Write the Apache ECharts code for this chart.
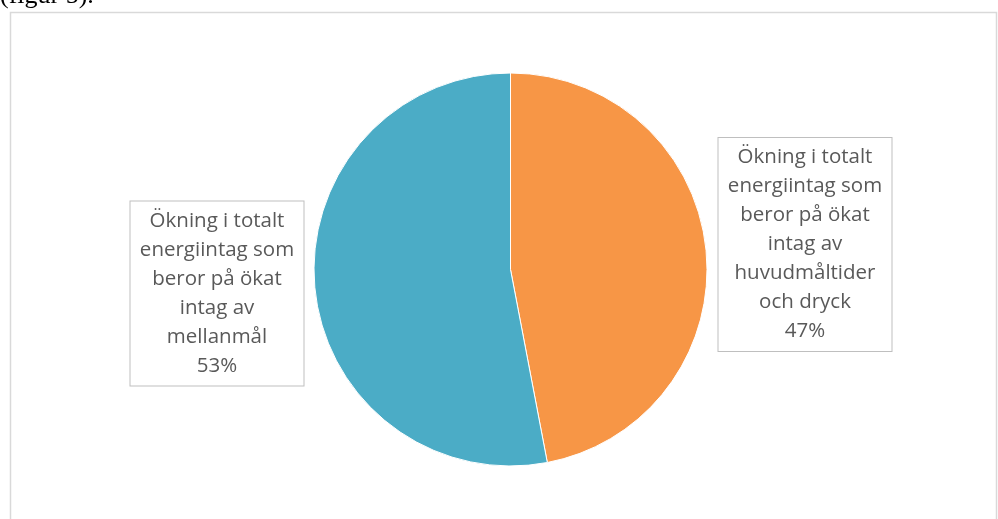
<!DOCTYPE html>
<html>
<head>
<meta charset="utf-8">
<script src="https://cdn.jsdelivr.net/npm/echarts@6/dist/echarts.min.js"></script>
<style>
  html, body { margin: 0; padding: 0; background: #fff; }
  #chart { width: 998px; height: 519px; }
</style>
</head>
<body>
<div id="chart"></div>
<script>
// Share of the increase in total energy intake
const categories = [
  'Ökning i totalt\nenergiintag som\nberor på ökat\nintag av\nhuvudmåltider\noch dryck',
  'Ökning i totalt\nenergiintag som\nberor på ökat\nintag av\nmellanmål'
];
const values = [47, 53];
const colors = ['#F79646', '#4BACC6'];

// Where each label box sits (centre point)
const labelSpots = [
  { x: 805, y: 244.5 },
  { x: 217, y: 293.5 }
];

const chart = echarts.init(document.getElementById('chart'));
chart.setOption({
  animation: false,
  graphic: [
    {
      type: 'text',
      left: 0,
      top: -17,
      style: { text: '(figur 5).', font: '26px "Liberation Serif"', fill: '#000' }
    },
    {
      type: 'rect',
      shape: { x: 10.5, y: 12.5, width: 986, height: 520 },
      style: { fill: 'none', stroke: '#d9d9d9', lineWidth: 1.5 },
      z: -1
    }
  ],
  series: [{
    type: 'pie',
    center: [510.5, 269.5],
    radius: [0, 196.5],
    startAngle: 90,
    clockwise: true,
    itemStyle: { borderColor: '#fff', borderWidth: 1 },
    label: {
      show: true,
      formatter: p => p.name + '\n' + p.value + '%',
      fontFamily: 'Open Sans',
      fontSize: 20.5,
      lineHeight: 29,
      color: '#595959',
      align: 'center',
      backgroundColor: '#fff',
      borderColor: '#bfbfbf',
      borderWidth: 1,
      padding: [10, 8, 0, 8],
      width: 157
    },
    labelLine: { show: false },
    labelLayout: params => ({
      x: labelSpots[params.dataIndex].x,
      y: labelSpots[params.dataIndex].y,
      align: 'center',
      verticalAlign: 'middle'
    }),
    data: categories.map((name, i) => ({
      name, value: values[i], itemStyle: { color: colors[i] }
    }))
  }]
});
</script>
</body>
</html>
